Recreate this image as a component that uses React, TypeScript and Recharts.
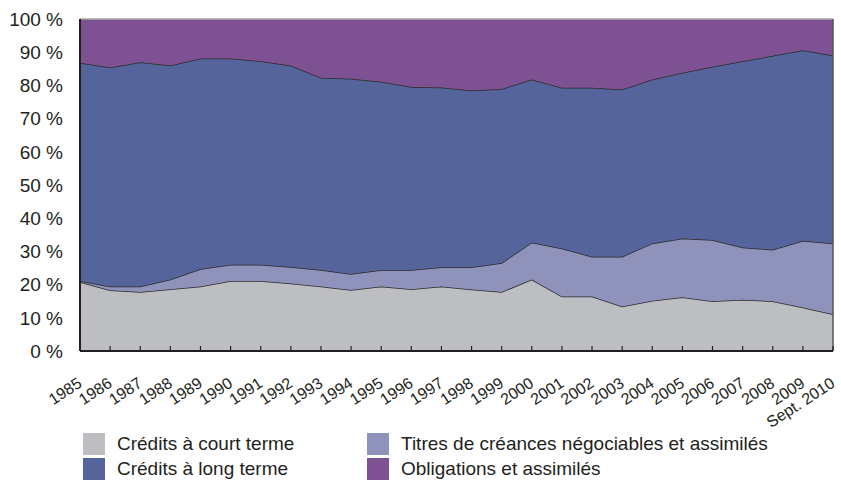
import * as React from 'react';
import { AreaChart, Area, XAxis, YAxis, ReferenceLine } from 'recharts';

const years = [
  '1985', '1986', '1987', '1988', '1989', '1990', '1991', '1992', '1993', '1994',
  '1995', '1996', '1997', '1998', '1999', '2000', '2001', '2002', '2003', '2004',
  '2005', '2006', '2007', '2008', '2009', 'Sept. 2010',
];

// parts in % of total
const courtTerme = [20.8, 18.3, 17.8, 18.6, 19.4, 21.1, 21.1, 20.3, 19.4, 18.4, 19.4, 18.6, 19.4, 18.5, 17.8, 21.5, 16.4, 16.4, 13.4, 15.1, 16.2, 15.0, 15.4, 15.0, 13.1, 11.1];
const titres = [0.3, 1.1, 1.6, 2.9, 5.3, 4.9, 4.9, 5.0, 5.0, 4.8, 5.0, 5.8, 5.8, 6.7, 8.7, 11.2, 14.5, 12.0, 15.0, 17.3, 17.7, 18.4, 15.8, 15.5, 20.1, 21.3];
const longTerme = [65.7, 66.0, 67.6, 64.5, 63.4, 62.1, 61.3, 60.7, 57.9, 58.8, 56.7, 55.1, 54.2, 53.3, 52.4, 49.1, 48.4, 50.9, 50.4, 49.4, 49.9, 52.2, 56.1, 58.4, 57.4, 56.6];
const obligations = [13.2, 14.6, 13.0, 14.0, 11.9, 11.9, 12.7, 14.0, 17.7, 18.0, 18.9, 20.5, 20.6, 21.5, 21.1, 18.2, 20.7, 20.7, 21.2, 18.2, 16.2, 14.4, 12.7, 11.1, 9.4, 11.0];

const yTicks = [0, 10, 20, 30, 40, 50, 60, 70, 80, 90, 100];

const series = [
  { key: 'court', name: 'Crédits à court terme', color: '#bdbec2' },
  { key: 'titres', name: 'Titres de créances négociables et assimilés', color: '#8f92ba' },
  { key: 'long', name: 'Crédits à long terme', color: '#55649b' },
  { key: 'oblig', name: 'Obligations et assimilés', color: '#7e5192' },
];

const data = years.map((year, i) => ({
  year,
  court: courtTerme[i],
  titres: titres[i],
  long: longTerme[i],
  oblig: obligations[i],
}));

const FONT = '"Liberation Sans", Arial, Helvetica, sans-serif';
const INK = '#231f20';

const YearTick = (props: any) => {
  const { x, y, payload } = props;
  const tx = x + 3;
  const ty = y + 35;
  return (
    <g>
      <line x1={x} y1={y} x2={x} y2={y - 5} stroke={INK} strokeWidth={1.2} />
      <text
        x={tx}
        y={ty}
        textAnchor="end"
        transform={`rotate(-33 ${tx} ${ty})`}
        fontSize={16}
        fontFamily={FONT}
        fill={INK}
      >
        {payload.value}
      </text>
    </g>
  );
};

const legendItems = [
  { ...series[0], left: 83, top: 433 },
  { ...series[2], left: 83, top: 458 },
  { ...series[1], left: 367, top: 433 },
  { ...series[3], left: 367, top: 458 },
];

export default function App() {
  return (
    <div style={{ position: 'absolute', left: 0, top: 0, width: 841, height: 480, background: '#fff', fontFamily: FONT }}>
      <AreaChart width={841} height={480} data={data} margin={{ top: 19, right: 8, bottom: 69, left: 0 }}>
        <XAxis
          dataKey="year"
          interval={0}
          height={60}
          tickSize={0}
          tickMargin={0}
          tickLine={false}
          tick={<YearTick />}
          axisLine={{ stroke: INK, strokeWidth: 2 }}
        />
        <YAxis
          domain={[0, 100]}
          ticks={yTicks}
          width={80}
          tickSize={0}
          tickMargin={17}
          tickLine={false}
          tickFormatter={(v: number) => `${v} %`}
          tick={{ fontSize: 19, fill: INK, fontFamily: FONT }}
          axisLine={{ stroke: INK, strokeWidth: 2 }}
          allowDataOverflow
        />
        <Area type="linear" dataKey="court" stackId="1" fill={series[0].color} fillOpacity={1} stroke="#2a2a2a" strokeWidth={1.5} isAnimationActive={false} />
        <Area type="linear" dataKey="titres" stackId="1" fill={series[1].color} fillOpacity={1} stroke="#2a2a2a" strokeWidth={1.5} isAnimationActive={false} />
        <Area type="linear" dataKey="long" stackId="1" fill={series[2].color} fillOpacity={1} stroke="#2a2a2a" strokeWidth={1.5} isAnimationActive={false} />
        <Area type="linear" dataKey="oblig" stackId="1" fill={series[3].color} fillOpacity={1} stroke="none" isAnimationActive={false} />
        <ReferenceLine y={100} stroke="#a8a8a8" strokeWidth={1.5} />
        <ReferenceLine x="Sept. 2010" stroke="#555" strokeWidth={1.5} />
      </AreaChart>
      {legendItems.map((item) => (
        <div key={item.key} style={{ position: 'absolute', left: item.left, top: item.top, height: 22, display: 'flex', alignItems: 'center' }}>
          <div style={{ width: 22, height: 22, background: item.color }} />
          <span style={{ marginLeft: 12, fontSize: 19, color: INK, lineHeight: '22px', whiteSpace: 'nowrap' }}>{item.name}</span>
        </div>
      ))}
    </div>
  );
}
